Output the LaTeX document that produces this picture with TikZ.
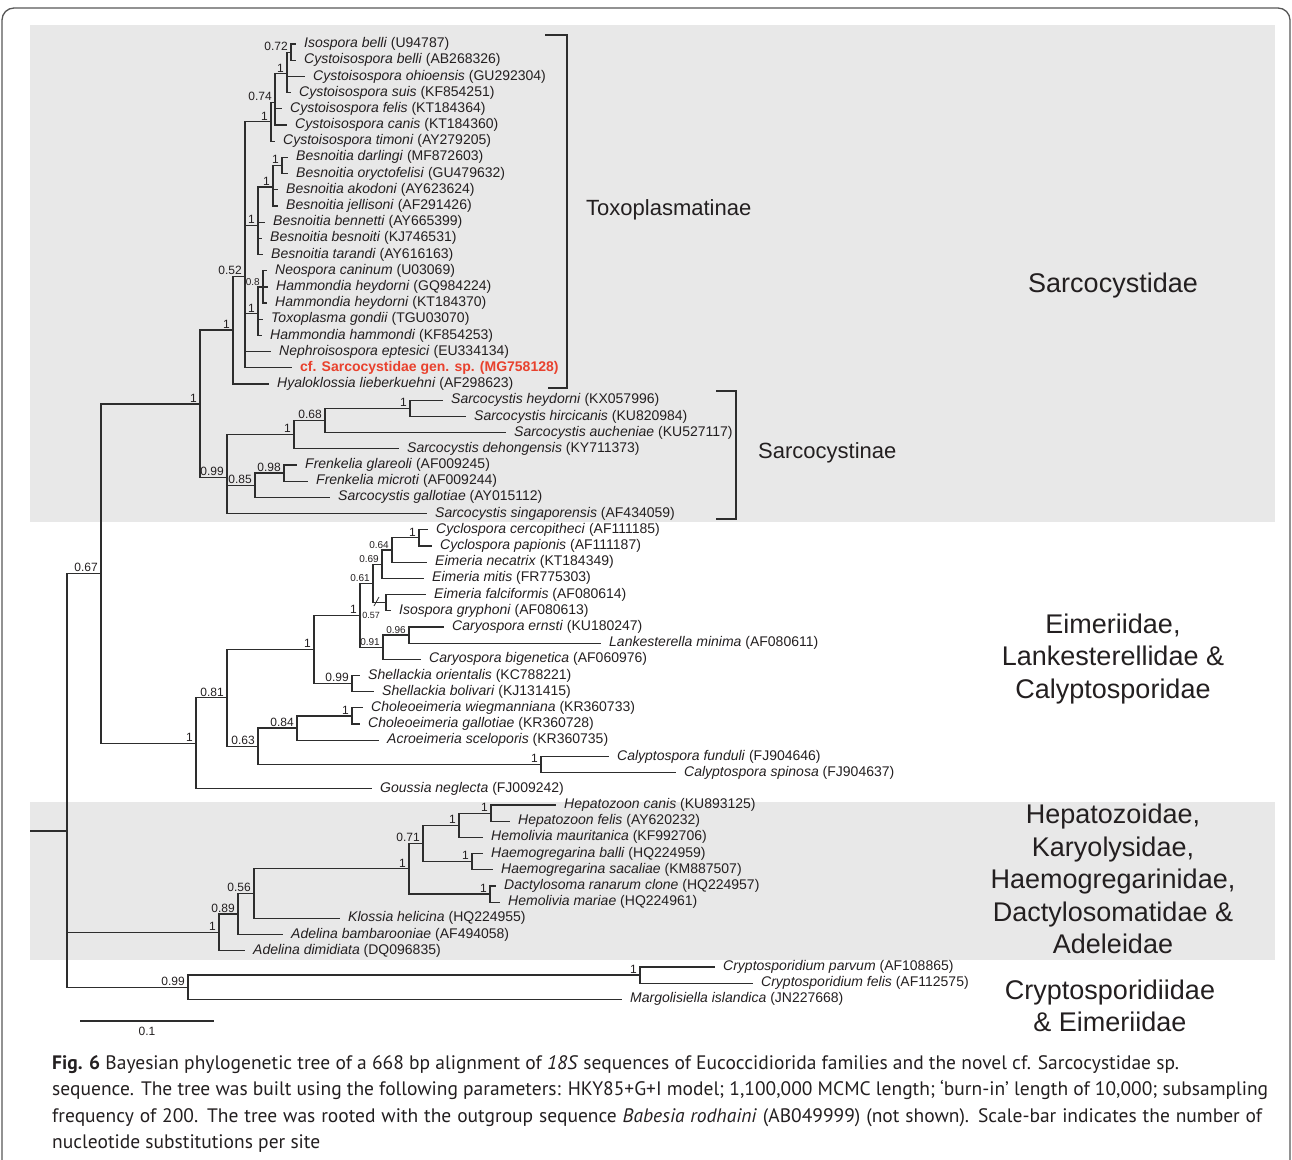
\documentclass[tikz,border=0pt]{standalone}
\usepackage{fontspec}
\setmainfont{Liberation Sans}
\newfontfamily\capfamily{PT Sans}
\definecolor{band}{RGB}{232,232,232}
\definecolor{ink}{RGB}{35,31,32}
\definecolor{treec}{RGB}{45,45,45}
\definecolor{hl}{RGB}{232,65,45}
\newcommand\lfnt{\fontsize{14}{16}\selectfont}
\newcommand\pfnt{\fontsize{12}{14}\selectfont}
\newcommand\sfnt{\fontsize{10}{12}\selectfont}
\newcommand\subfnt{\fontsize{22}{26}\selectfont}
\newcommand\famfnt{\fontsize{27}{32.5}\selectfont}
\newcommand\capfnt{\capfamily\fontsize{19.5}{26.6}\selectfont}
\begin{document}
\begin{tikzpicture}[x=1pt,y=-1pt,
  br/.style={draw=treec, line width=1.2pt},
  leaf/.style={anchor=west, inner xsep=8pt, inner ysep=0pt, font=\lfnt, text=ink},
  pp/.style={anchor=south east, inner xsep=3pt, inner ysep=1.5pt, font=\pfnt, text=ink},
  ps/.style={anchor=south east, inner xsep=3pt, inner ysep=1.5pt, font=\sfnt, text=ink},
  bracket/.style={draw=treec, line width=1.5pt},
  sub/.style={anchor=west, inner sep=0pt, font=\subfnt, text=ink},
  fam/.style={align=center, inner sep=0pt, font=\famfnt, text=ink},
  capline/.style={anchor=base west, inner sep=0pt, font=\capfnt, text=ink}]
\useasboundingbox (0,0) rectangle (1292,1159);
\fill[band] (30,25) rectangle (1275,522);
\fill[band] (30,802) rectangle (1275,960);
\draw[draw=treec!80, line width=1.3pt, rounded corners=12pt] (2,1180) -- (2,8) -- (1290,8) -- (1290,1180);

% internal nodes
\coordinate (root0) at (30,831.0);
\coordinate (root) at (67,831.0);
\coordinate (n067) at (101,573.6);
\coordinate (nSdae) at (200,403.9);
\coordinate (nToxo) at (233,330.05);
\coordinate (n052) at (245,276.1);
\coordinate (nCys) at (271,121.8);
\coordinate (n074) at (275,102.5);
\coordinate (nC287) at (287,73.7);
\coordinate (nIB) at (291,52.1);
\coordinate (nBes) at (258,225.5);
\coordinate (nBi) at (273,187.0);
\coordinate (nBd) at (282,165.4);
\coordinate (nNeo) at (258,313.8);
\coordinate (n08) at (263,286.9);
\coordinate (nSarc) at (227,477.8);
\coordinate (nS1) at (294,434.6);
\coordinate (n068) at (325,420.45);
\coordinate (nSh) at (410,408.3);
\coordinate (n085) at (255,485.2);
\coordinate (n098) at (284,473.05);
\coordinate (nEim) at (196,743.3);
\coordinate (n081) at (227,697.85);
\coordinate (nE2) at (314,649.4);
\coordinate (nE1) at (360,615.25);
\coordinate (n061) at (373,583.4);
\coordinate (n069) at (382,564.1);
\coordinate (n064) at (392,549.95);
\coordinate (nCyc) at (419,537.8);
\coordinate (n057) at (386,602.6);
\coordinate (n091) at (383,647.1);
\coordinate (n096) at (409,635.0);
\coordinate (nShel) at (352,683.5);
\coordinate (n063) at (258,746.3);
\coordinate (n084) at (297,728.05);
\coordinate (nCho) at (352,715.9);
\coordinate (nCal) at (541,764.5);
\coordinate (nAd) at (219,932.35);
\coordinate (n089) at (238,914.0);
\coordinate (n056) at (254,893.5);
\coordinate (nH409) at (409,868.7);
\coordinate (n071) at (423,843.4);
\coordinate (nH452) at (459,825.2);
\coordinate (nHep) at (491,813.1);
\coordinate (nHae) at (472,861.6);
\coordinate (nDac) at (490,894.0);
\coordinate (n099c) at (188,987.15);
\coordinate (nCry) at (640,975.0);

% leaves
\node[leaf] (l1) at (296,44.0) {\textit{Isospora belli} (U94787)};
\node[leaf] (l2) at (296,60.2) {\textit{Cystoisospora belli} (AB268326)};
\node[leaf] (l3) at (305,76.4) {\textit{Cystoisospora ohioensis} (GU292304)};
\node[leaf] (l4) at (291,92.6) {\textit{Cystoisospora suis} (KF854251)};
\node[leaf] (l5) at (282,108.8) {\textit{Cystoisospora felis} (KT184364)};
\node[leaf] (l6) at (287,125.0) {\textit{Cystoisospora canis} (KT184360)};
\node[leaf] (l7) at (275,141.1) {\textit{Cystoisospora timoni} (AY279205)};
\node[leaf] (l8) at (288,157.3) {\textit{Besnoitia darlingi} (MF872603)};
\node[leaf] (l9) at (288,173.5) {\textit{Besnoitia oryctofelisi} (GU479632)};
\node[leaf] (l10) at (278,189.7) {\textit{Besnoitia akodoni} (AY623624)};
\node[leaf] (l11) at (278,205.9) {\textit{Besnoitia jellisoni} (AF291426)};
\node[leaf] (l12) at (265,222.1) {\textit{Besnoitia bennetti} (AY665399)};
\node[leaf] (l13) at (262,238.3) {\textit{Besnoitia besnoiti} (KJ746531)};
\node[leaf] (l14) at (263,254.5) {\textit{Besnoitia tarandi} (AY616163)};
\node[leaf] (l15) at (267,270.7) {\textit{Neospora caninum} (U03069)};
\node[leaf] (l16) at (268,286.9) {\textit{Hammondia heydorni} (GQ984224)};
\node[leaf] (l17) at (267,303.0) {\textit{Hammondia heydorni} (KT184370)};
\node[leaf] (l18) at (263,319.2) {\textit{Toxoplasma gondii} (TGU03070)};
\node[leaf] (l19) at (262,335.4) {\textit{Hammondia hammondi} (KF854253)};
\node[leaf] (l20) at (271,351.6) {\textit{Nephroisospora eptesici} (EU334134)};
\node[leaf, text=hl, font=\lfnt\bfseries] (l21) at (292,367.8) {cf. Sarcocystidae gen. sp. (MG758128)};
\node[leaf] (l22) at (269,384.0) {\textit{Hyaloklossia lieberkuehni} (AF298623)};
\node[leaf] (l23) at (443,400.2) {\textit{Sarcocystis heydorni} (KX057996)};
\node[leaf] (l24) at (466,416.4) {\textit{Sarcocystis hircicanis} (KU820984)};
\node[leaf] (l25) at (506,432.6) {\textit{Sarcocystis aucheniae} (KU527117)};
\node[leaf] (l26) at (399,448.8) {\textit{Sarcocystis dehongensis} (KY711373)};
\node[leaf] (l27) at (297,465.0) {\textit{Frenkelia glareoli} (AF009245)};
\node[leaf] (l28) at (308,481.1) {\textit{Frenkelia microti} (AF009244)};
\node[leaf] (l29) at (330,497.3) {\textit{Sarcocystis gallotiae} (AY015112)};
\node[leaf] (l30) at (427,513.5) {\textit{Sarcocystis singaporensis} (AF434059)};
\node[leaf] (l31) at (428,529.7) {\textit{Cyclospora cercopitheci} (AF111185)};
\node[leaf] (l32) at (432,545.9) {\textit{Cyclospora papionis} (AF111187)};
\node[leaf] (l33) at (427,562.1) {\textit{Eimeria necatrix} (KT184349)};
\node[leaf] (l34) at (424,578.3) {\textit{Eimeria mitis} (FR775303)};
\node[leaf] (l35) at (426,594.5) {\textit{Eimeria falciformis} (AF080614)};
\node[leaf] (l36) at (391,610.7) {\textit{Isospora gryphoni} (AF080613)};
\node[leaf] (l37) at (444,626.9) {\textit{Caryospora ernsti} (KU180247)};
\node[leaf] (l38) at (601,643.1) {\textit{Lankesterella minima} (AF080611)};
\node[leaf] (l39) at (421,659.2) {\textit{Caryospora bigenetica} (AF060976)};
\node[leaf] (l40) at (360,675.4) {\textit{Shellackia orientalis} (KC788221)};
\node[leaf] (l41) at (374,691.6) {\textit{Shellackia bolivari} (KJ131415)};
\node[leaf] (l42) at (363,707.8) {\textit{Choleoeimeria wiegmanniana} (KR360733)};
\node[leaf] (l43) at (360,724.0) {\textit{Choleoeimeria gallotiae} (KR360728)};
\node[leaf] (l44) at (379,740.2) {\textit{Acroeimeria sceloporis} (KR360735)};
\node[leaf] (l45) at (609,756.4) {\textit{Calyptospora funduli} (FJ904646)};
\node[leaf] (l46) at (676,772.6) {\textit{Calyptospora spinosa} (FJ904637)};
\node[leaf] (l47) at (372,788.8) {\textit{Goussia neglecta} (FJ009242)};
\node[leaf] (l48) at (556,805.0) {\textit{Hepatozoon canis} (KU893125)};
\node[leaf] (l49) at (510,821.2) {\textit{Hepatozoon felis} (AY620232)};
\node[leaf] (l50) at (483,837.3) {\textit{Hemolivia mauritanica} (KF992706)};
\node[leaf] (l51) at (483,853.5) {\textit{Haemogregarina balli} (HQ224959)};
\node[leaf] (l52) at (493,869.7) {\textit{Haemogregarina sacaliae} (KM887507)};
\node[leaf] (l53) at (496,885.9) {\textit{Dactylosoma ranarum clone} (HQ224957)};
\node[leaf] (l54) at (500,902.1) {\textit{Hemolivia mariae} (HQ224961)};
\node[leaf] (l55) at (340,918.3) {\textit{Klossia helicina} (HQ224955)};
\node[leaf] (l56) at (283,934.5) {\textit{Adelina bambarooniae} (AF494058)};
\node[leaf] (l57) at (245,950.7) {\textit{Adelina dimidiata} (DQ096835)};
\node[leaf] (l58) at (715,966.9) {\textit{Cryptosporidium parvum} (AF108865)};
\node[leaf] (l59) at (753,983.1) {\textit{Cryptosporidium felis} (AF112575)};
\node[leaf] (l60) at (622,999.3) {\textit{Margolisiella islandica} (JN227668)};

% branches
\draw[br] (root0) -- (root);
\draw[br] (root) |- (n067); \draw[br] (root) |- (nAd); \draw[br] (root) |- (n099c);
\draw[br] (n067) |- (nSdae); \draw[br] (n067) |- (nEim);
\draw[br] (nSdae) |- (nToxo); \draw[br] (nSdae) |- (nSarc);
\draw[br] (nToxo) |- (n052); \draw[br] (nToxo) |- (l22.west);
\draw[br] (n052) |- (nCys); \draw[br] (n052) |- (nBes); \draw[br] (n052) |- (nNeo);
\draw[br] (n052) |- (l20.west); \draw[br] (n052) |- (l21.west);
\draw[br] (nCys) |- (n074); \draw[br] (nCys) |- (l7.west);
\draw[br] (n074) |- (nC287); \draw[br] (n074) |- (l5.west); \draw[br] (n074) |- (l6.west);
\draw[br] (nC287) |- (nIB); \draw[br] (nC287) |- (l3.west); \draw[br] (nC287) |- (l4.west);
\draw[br] (nIB) |- (l1.west); \draw[br] (nIB) |- (l2.west);
\draw[br] (nBes) |- (nBi); \draw[br] (nBes) |- (l12.west); \draw[br] (nBes) |- (l13.west); \draw[br] (nBes) |- (l14.west);
\draw[br] (nBi) |- (nBd); \draw[br] (nBi) |- (l10.west); \draw[br] (nBi) |- (l11.west);
\draw[br] (nBd) |- (l8.west); \draw[br] (nBd) |- (l9.west);
\draw[br] (nNeo) |- (n08); \draw[br] (nNeo) |- (l18.west); \draw[br] (nNeo) |- (l19.west);
\draw[br] (n08) |- (l15.west); \draw[br] (n08) |- (l16.west); \draw[br] (n08) |- (l17.west);
\draw[br] (nSarc) |- (nS1); \draw[br] (nSarc) |- (n085); \draw[br] (nSarc) |- (l30.west);
\draw[br] (nS1) |- (n068); \draw[br] (nS1) |- (l26.west);
\draw[br] (n068) |- (nSh); \draw[br] (n068) |- (l25.west);
\draw[br] (nSh) |- (l23.west); \draw[br] (nSh) |- (l24.west);
\draw[br] (n085) |- (n098); \draw[br] (n085) |- (l29.west);
\draw[br] (n098) |- (l27.west); \draw[br] (n098) |- (l28.west);
\draw[br] (nEim) |- (n081); \draw[br] (nEim) |- (l47.west);
\draw[br] (n081) |- (nE2); \draw[br] (n081) |- (n063);
\draw[br] (nE2) |- (nE1); \draw[br] (nE2) |- (nShel);
\draw[br] (nE1) |- (n061); \draw[br] (nE1) |- (n091);
\draw[br] (n061) |- (n069); \draw[br] (n061) |- (n057);
\draw[br] (n069) |- (n064); \draw[br] (n069) |- (l34.west);
\draw[br] (n064) |- (nCyc); \draw[br] (n064) |- (l33.west);
\draw[br] (nCyc) |- (l31.west); \draw[br] (nCyc) |- (l32.west);
\draw[br] (n057) |- (l35.west); \draw[br] (n057) |- (l36.west);
\draw[br] (n091) |- (n096); \draw[br] (n091) |- (l39.west);
\draw[br] (n096) |- (l37.west); \draw[br] (n096) |- (l38.west);
\draw[br] (nShel) |- (l40.west); \draw[br] (nShel) |- (l41.west);
\draw[br] (n063) |- (n084); \draw[br] (n063) |- (nCal);
\draw[br] (n084) |- (nCho); \draw[br] (n084) |- (l44.west);
\draw[br] (nCho) |- (l42.west); \draw[br] (nCho) |- (l43.west);
\draw[br] (nCal) |- (l45.west); \draw[br] (nCal) |- (l46.west);
\draw[br] (nAd) |- (n089); \draw[br] (nAd) |- (l57.west);
\draw[br] (n089) |- (n056); \draw[br] (n089) |- (l56.west);
\draw[br] (n056) |- (nH409); \draw[br] (n056) |- (l55.west);
\draw[br] (nH409) |- (n071); \draw[br] (nH409) |- (nDac);
\draw[br] (n071) |- (nH452); \draw[br] (n071) |- (nHae);
\draw[br] (nH452) |- (nHep); \draw[br] (nH452) |- (l50.west);
\draw[br] (nHep) |- (l48.west); \draw[br] (nHep) |- (l49.west);
\draw[br] (nHae) |- (l51.west); \draw[br] (nHae) |- (l52.west);
\draw[br] (nDac) |- (l53.west); \draw[br] (nDac) |- (l54.west);
\draw[br] (n099c) |- (nCry); \draw[br] (n099c) |- (l60.west);
\draw[br] (nCry) |- (l58.west); \draw[br] (nCry) |- (l59.west);
\draw[br, line width=0.8pt] (374,606) -- (379,597);

% posterior probabilities
\node[pp] (p1) at (nSdae) {1};
\node[pp] (p2) at (nToxo) {1};
\node[pp] (p3) at (n052) {0.52};
\node[pp] (p4) at (nCys) {1};
\node[pp] (p5) at (n074) {0.74};
\node[pp] (p6) at (nC287) {1};
\node[pp] (p7) at (nIB) {0.72};
\node[pp] (p8) at (nBes) {1};
\node[pp] (p9) at (nBi) {1};
\node[pp] (p10) at (nBd) {1};
\node[pp] (p11) at (nNeo) {1};
\node[ps] (p12) at (n08) {0.8};
\node[pp] (p13) at (nSarc) {0.99};
\node[pp] (p14) at (nS1) {1};
\node[pp] (p15) at (n068) {0.68};
\node[pp] (p16) at (nSh) {1};
\node[pp] (p17) at (n085) {0.85};
\node[pp] (p18) at (n098) {0.98};
\node[pp] (p19) at (n067) {0.67};
\node[pp] (p20) at (nEim) {1};
\node[pp] (p21) at (n081) {0.81};
\node[pp] (p22) at (nE2) {1};
\node[pp] (p23) at (nE1) {1};
\node[pp] (p24) at (nCyc) {1};
\node[ps] (p25) at (n064) {0.64};
\node[ps] (p26) at (n069) {0.69};
\node[ps] (p27) at (n061) {0.61};
\node[ps, anchor=north east, font=\fontsize{9}{10}\selectfont, xshift=-3pt, yshift=-8pt] (p28) at (n057) {0.57};
\node[ps] (p29) at (n091) {0.91};
\node[ps] (p30) at (n096) {0.96};
\node[pp] (p31) at (nShel) {0.99};
\node[pp] (p32) at (n063) {0.63};
\node[pp] (p33) at (n084) {0.84};
\node[pp] (p34) at (nCho) {1};
\node[pp] (p35) at (nCal) {1};
\node[pp] (p36) at (nAd) {1};
\node[pp] (p37) at (n089) {0.89};
\node[pp] (p38) at (n056) {0.56};
\node[pp] (p39) at (nH409) {1};
\node[pp] (p40) at (n071) {0.71};
\node[pp] (p41) at (nH452) {1};
\node[pp] (p42) at (nHep) {1};
\node[pp] (p43) at (nHae) {1};
\node[pp] (p44) at (nDac) {1};
\node[pp] (p45) at (n099c) {0.99};
\node[pp] (p46) at (nCry) {1};

% brackets
\coordinate (tb1) at (545,35); \coordinate (tb2) at (567,35);
\coordinate (tb3) at (567,388); \coordinate (tb4) at (548,388);
\draw[bracket] (tb1) -- (tb2) -- (tb3) -- (tb4);
\coordinate (sb1) at (716,391); \coordinate (sb2) at (736,391);
\coordinate (sb3) at (736,519); \coordinate (sb4) at (716,519);
\draw[bracket] (sb1) -- (sb2) -- (sb3) -- (sb4);
\node[sub] (toxo) at (586,210) {Toxoplasmatinae};
\node[sub] (sarci) at (758,453) {Sarcocystinae};

% family labels
\node[fam] (f1) at (1113,286) {Sarcocystidae};
\node[fam] (f2) at (1113,659) {Eimeriidae,\\Lankesterellidae \&\\Calyptosporidae};
\node[fam] (f3) at (1113,879) {Hepatozoidae,\\Karyolysidae,\\Haemogregarinidae,\\Dactylosomatidae \&\\Adeleidae};
\node[fam] (f4) at (1110,1006) {Cryptosporidiidae\\\& Eimeriidae};

% scale bar
\coordinate (sc1) at (80,1021); \coordinate (sc2) at (214,1021);
\draw[br] (sc1) -- (sc2);
\node[anchor=north, inner sep=0pt, font=\pfnt, text=ink] (scl) at (147,1027) {0.1};

% caption
\node[capline] (c1) at (52,1069) {\textbf{Fig. 6} Bayesian phylogenetic tree of a 668 bp alignment of \textit{18S} sequences of Eucoccidiorida families and the novel cf. Sarcocystidae sp.};
\node[capline] (c2) at (52,1095.6) {\makebox[1216pt][s]{sequence. The tree was built using the following parameters: HKY85+G+I model; 1,100,000 MCMC length; ‘burn-in’ length of 10,000; subsampling}};
\node[capline] (c3) at (52,1122.2) {\makebox[1210pt][s]{frequency of 200. The tree was rooted with the outgroup sequence \textit{Babesia rodhaini} (AB049999) (not shown). Scale-bar indicates the number of}};
\node[capline] (c4) at (52,1148.8) {nucleotide substitutions per site};
\end{tikzpicture}
\end{document}
